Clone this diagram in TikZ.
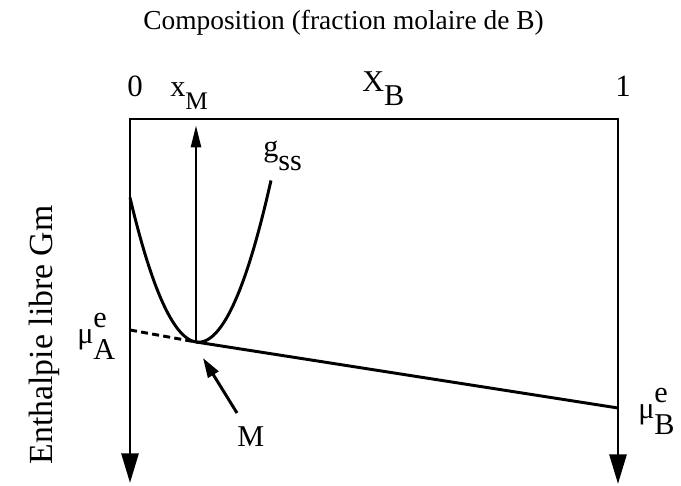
\documentclass[tikz,border=0pt]{standalone}
\usepackage{fontspec}
\setmainfont{Liberation Serif}
\usepackage{tikz}
\usetikzlibrary{arrows.meta}

\newcommand{\lsub}[2]{#1\raisebox{-0.45em}{#2}}
\newcommand{\lsupsub}[3]{#1\rlap{\raisebox{0.55em}{#2}}\raisebox{-0.5em}{#3}}

\begin{document}
\begin{tikzpicture}[
  every node/.style={font=\fontsize{19.5}{23}\selectfont, inner sep=0pt, anchor=base west},
  axe/.style={line width=2.1pt, line join=miter,
    {Triangle[length=21pt,width=12pt]}-{Triangle[length=21pt,width=12pt]}},
  fl/.style={-{Triangle[length=16pt,width=7pt]}, line width=2.1pt},
  flm/.style={-{Triangle[length=14pt,width=8.5pt]}, line width=2.1pt},
  tg/.style={line width=2.1pt},
  tgp/.style={line width=2.1pt, dash pattern=on 5pt off 3pt},
  bout/.style={font=\fontsize{22}{26}\selectfont},
  lab/.style={font=\fontsize{21.5}{26}\selectfont}
]
\useasboundingbox (0,0) rectangle (17.025,12.15);

% Axes : composition en haut, enthalpie libre vers le bas
\coordinate (O)  at (3.25, 9.175);
\coordinate (E)  at (15.45, 9.175);
\coordinate (Gl) at (3.25, 0.075);
\coordinate (Gr) at (15.45, 0.05);
\draw[axe] (Gl) -- (O) -- (E) -- (Gr);

% Points de la tangente
\coordinate (M)    at (4.9, 3.6);
\coordinate (A0)   at (3.25, 3.9);
\coordinate (B1)   at (15.45, 1.95);
\coordinate (xtop) at (4.9, 9.025);

% Courbe g_ss
\draw[tg] plot[domain=3.25:6.775, samples=60] (\x, {3.595+1.232*(\x-4.963)^2});

% Tangente
\draw[tgp] (A0) -- (M);
\draw[tg]  (M) -- (B1);
\draw[fl]  (M) -- (xtop);

% Labels
\node (titre) at (3.575, 11.4)  {Composition (fraction molaire de B)};
\node[bout] (zero) at (3.175, 9.725) {0};
\node[bout] (un)   at (15.375, 9.725) {1};
\node[lab] (xM)   at (4.25, 9.725)  {x\raisebox{-0.4em}{\fontsize{18}{21}\selectfont M}};
\node[lab] (XB)   at (9.05, 9.85)   {\lsub{X}{B}};
\node[lab] (gss)  at (6.575, 8.225) {\lsub{g}{ss}};
\node[lab] (muA)  at (1.925, 3.55)  {\lsupsub{μ}{e}{A}};
\node[lab] (muB)  at (15.95, 1.675) {\lsupsub{μ}{e}{B}};
\node[lab] (Mlbl) at (5.925, 0.975) {M};
\node[rotate=90, anchor=center, font=\fontsize{24}{28}\selectfont] (Gm) at (1.12, 3.78) {Enthalpie libre Gm};

% Fleche vers M
\coordinate (Mtail) at (5.925, 1.825);
\coordinate (Mtip)  at (5.075, 3.2);
\draw[flm] (Mtail) -- (Mtip);
\end{tikzpicture}
\end{document}
